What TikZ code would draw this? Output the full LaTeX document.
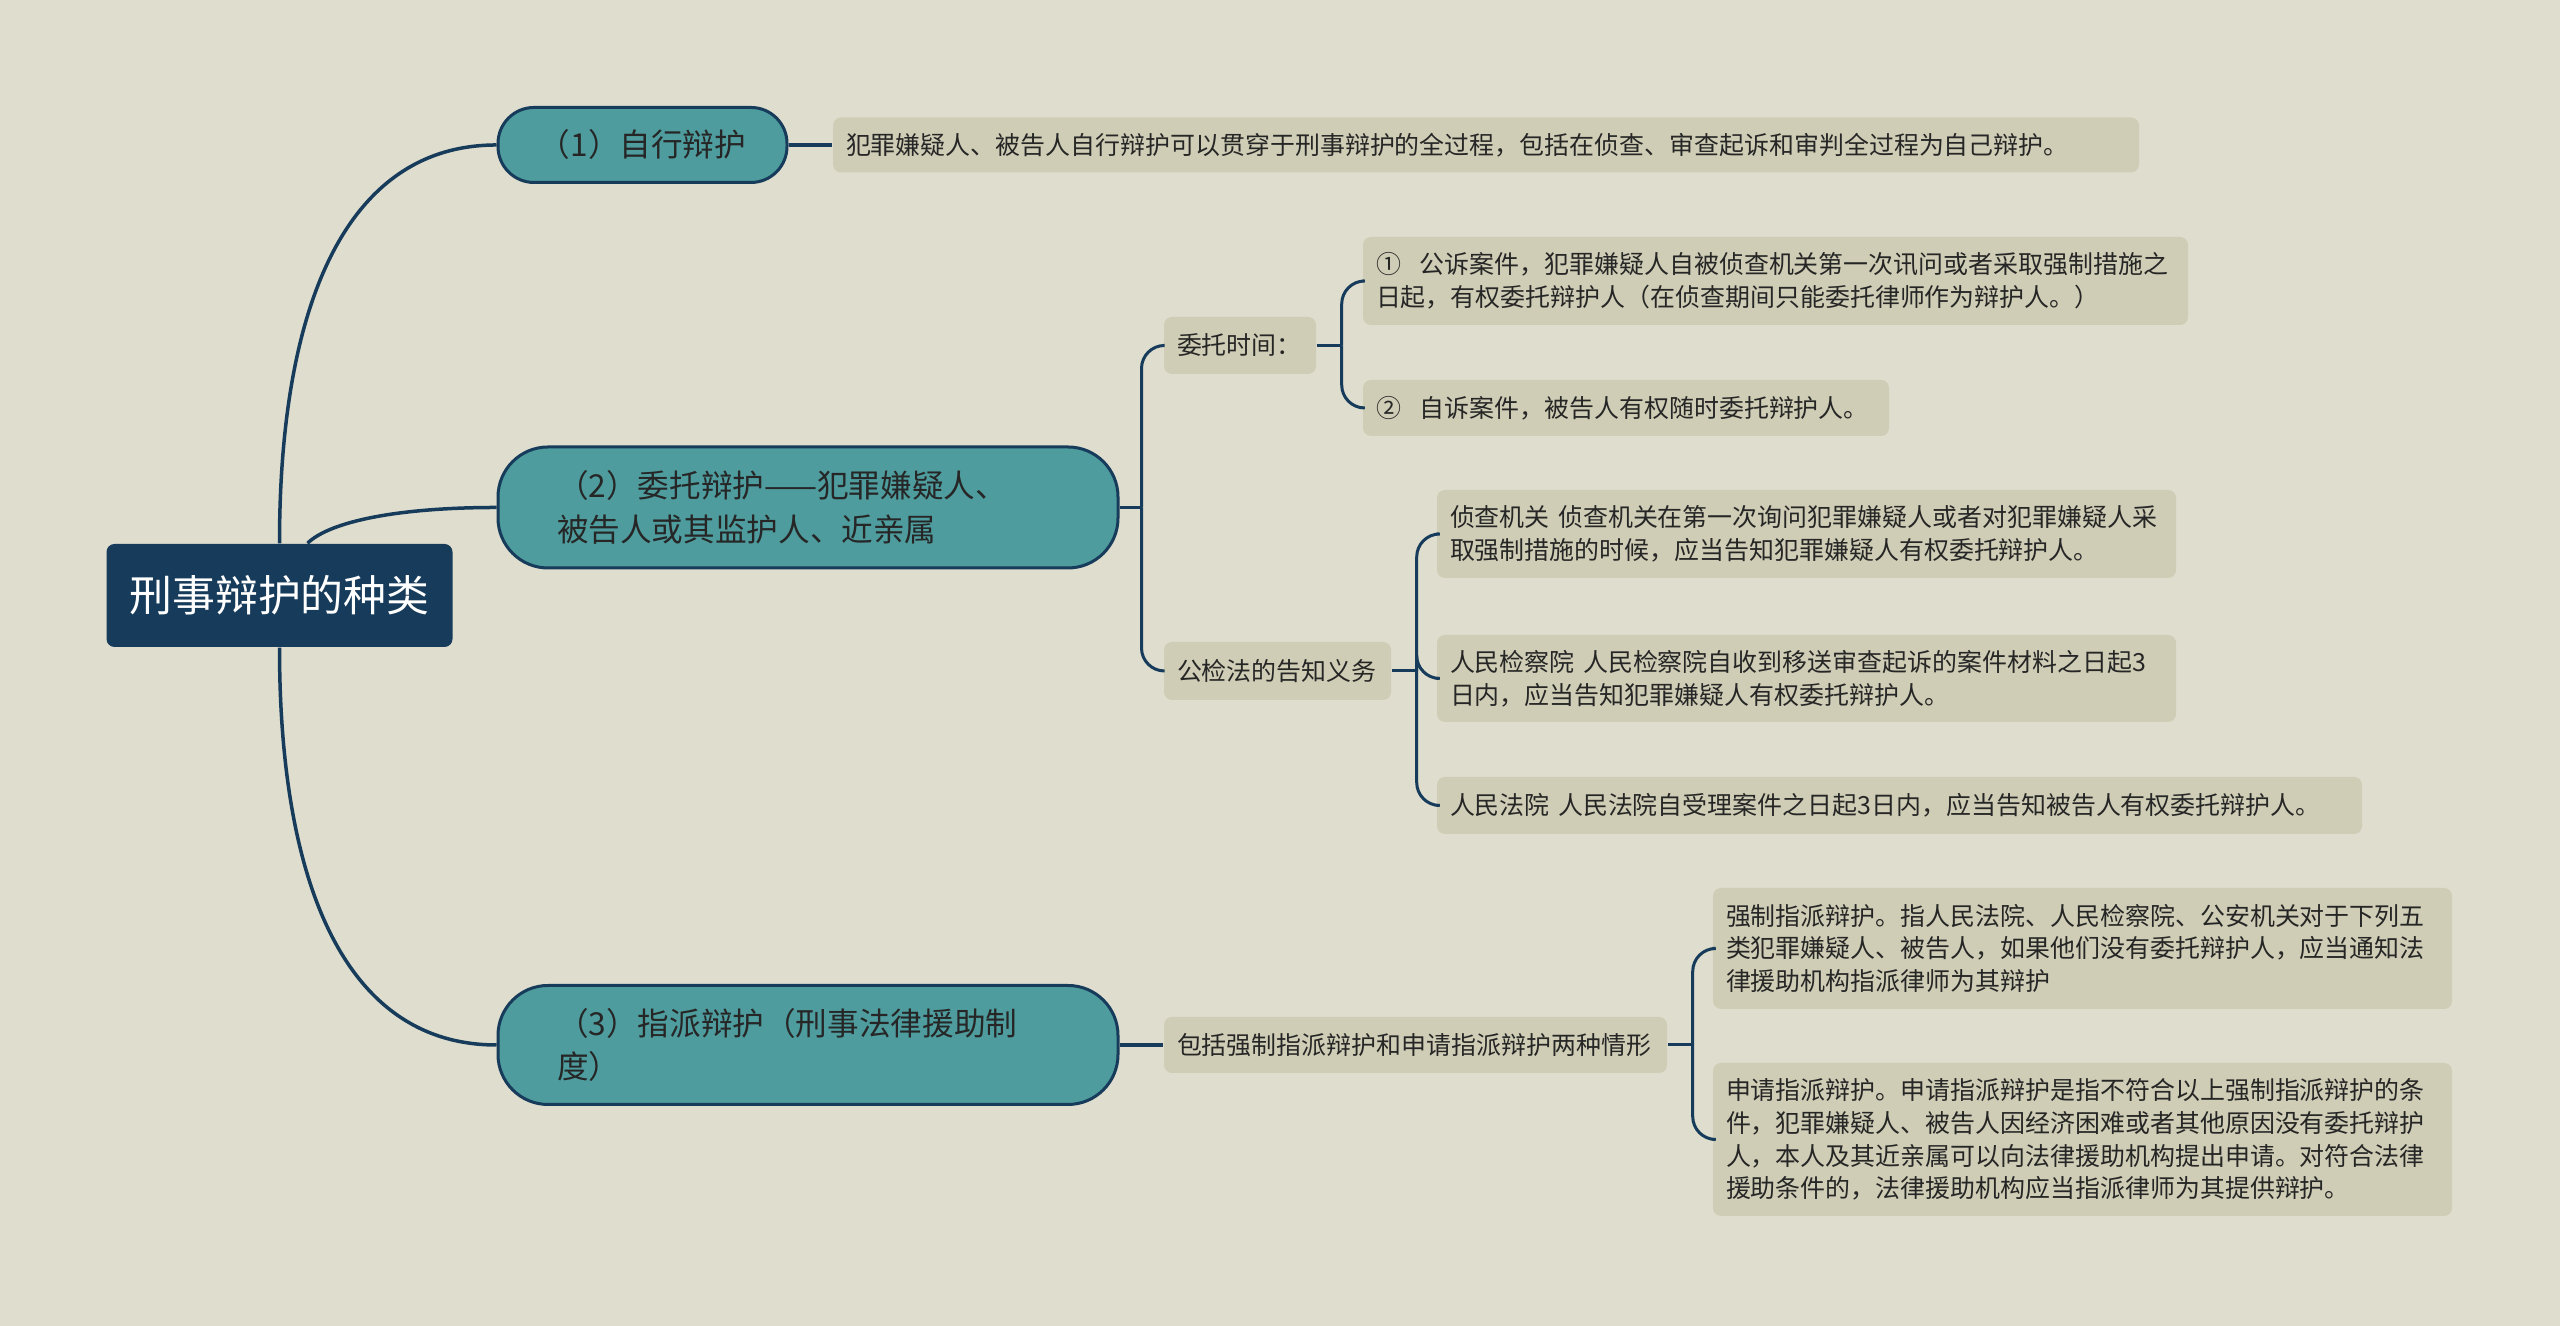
\documentclass[tikz,border=0pt]{standalone}
\usepackage{fontspec}
\setmainfont{Noto Sans CJK SC}
\definecolor{bgcol}{HTML}{DFDDCE}
\definecolor{notecol}{HTML}{CFCDB5}
\definecolor{topiccol}{HTML}{4E9C9E}
\definecolor{navycol}{HTML}{173B5A}
\definecolor{inkcol}{HTML}{262626}
\begin{document}
\begin{tikzpicture}[
  rootbox/.style={fill=navycol, text=white, rounded corners=0.08cm, inner sep=0pt,
    minimum width=3.46cm, minimum height=1.03cm, font=\fontsize{12.2}{14}\selectfont},
  topic/.style={fill=topiccol, draw=navycol, line width=0.03cm, text=inkcol, inner sep=0pt,
    font=\fontsize{9}{12.5}\selectfont},
  note/.style={fill=notecol, text=inkcol, rounded corners=0.08cm, inner xsep=0.13cm,
    inner ysep=0pt, align=left, font=\fontsize{7.1}{9.3}\selectfont},
  link/.style={draw=navycol, line width=0.035cm},
  twig/.style={draw=navycol, line width=0.03cm, rounded corners=0.23cm}
]
\fill[bgcol] (0,0) rectangle (25.6,13.26);
\useasboundingbox (0,0) rectangle (25.6,13.26);

\node[rootbox] (root) at (2.795,7.305) {刑事辩护的种类};

\node[topic, rounded corners=0.36cm, minimum width=2.89cm, minimum height=0.75cm] (self) at (6.425,11.81) {（1）自行辩护};
\node[topic, rounded corners=0.5cm, minimum width=6.2cm, minimum height=1.21cm, text width=5.02cm, align=left] (entrust) at (8.08,8.185) {（2）委托辩护——犯罪嫌疑人、\\被告人或其监护人、近亲属};
\node[topic, rounded corners=0.5cm, minimum width=6.2cm, minimum height=1.19cm, text width=5.02cm, align=left] (appoint) at (8.08,2.81) {（3）指派辩护（刑事法律援助制\\度）};

\node[note, text width=12.8cm, minimum height=0.55cm] (selfnote) at (14.86,11.81) {犯罪嫌疑人、被告人自行辩护可以贯穿于刑事辩护的全过程，包括在侦查、审查起诉和审判全过程为自己辩护。};

\node[note, text width=1.26cm, minimum height=0.57cm] (time) at (12.40,9.805) {委托时间：};
\node[note, text width=7.99cm, minimum height=0.88cm] (time1) at (17.755,10.45) {①\hspace{0.75em}公诉案件，犯罪嫌疑人自被侦查机关第一次讯问或者采取强制措施之\\日起，有权委托辩护人（在侦查期间只能委托律师作为辩护人。）};
\node[note, text width=5.0cm, minimum height=0.56cm] (time2) at (16.26,9.18) {②\hspace{0.75em}自诉案件，被告人有权随时委托辩护人。};

\node[note, text width=2.01cm, minimum height=0.58cm] (duty) at (12.775,6.55) {公检法的告知义务};
\node[note, text width=7.13cm, minimum height=0.88cm] (duty1) at (18.065,7.92) {侦查机关 侦查机关在第一次询问犯罪嫌疑人或者对犯罪嫌疑人采\\取强制措施的时候，应当告知犯罪嫌疑人有权委托辩护人。};
\node[note, text width=7.13cm, minimum height=0.87cm] (duty2) at (18.065,6.475) {人民检察院 人民检察院自收到移送审查起诉的案件材料之日起3\\日内，应当告知犯罪嫌疑人有权委托辩护人。};
\node[note, text width=8.99cm, minimum height=0.57cm] (duty3) at (18.995,5.205) {人民法院 人民法院自受理案件之日起3日内，应当告知被告人有权委托辩护人。};

\node[note, text width=4.77cm, minimum height=0.56cm] (kinds) at (14.155,2.81) {包括强制指派辩护和申请指派辩护两种情形};
\node[note, text width=7.13cm, minimum height=1.21cm] (kinds1) at (20.825,3.775) {强制指派辩护。指人民法院、人民检察院、公安机关对于下列五\\类犯罪嫌疑人、被告人，如果他们没有委托辩护人，应当通知法\\律援助机构指派律师为其辩护};
\node[note, text width=7.13cm, minimum height=1.53cm] (kinds2) at (20.825,1.865) {申请指派辩护。申请指派辩护是指不符合以上强制指派辩护的条\\件，犯罪嫌疑人、被告人因经济困难或者其他原因没有委托辩护\\人，本人及其近亲属可以向法律援助机构提出申请。对符合法律\\援助条件的，法律援助机构应当指派律师为其提供辩护。};

\draw[link] (root.north) .. controls +(0,2.43) and +(-1.48,0) .. (self.west);
\draw[link] ([xshift=0.28cm]root.north) .. controls +(0.225,0.22) and +(-0.98,0) .. (entrust.west);
\draw[link] (root.south) .. controls +(0,-2.43) and +(-1.48,0) .. (appoint.west);

\draw[link] (self.east) -- (selfnote.west);
\draw[link] (appoint.east) -- (kinds.west);

\coordinate (entrustfork) at ([xshift=0.22cm]entrust.east);
\coordinate (timefork) at ([xshift=0.25cm]time.east);
\coordinate (dutyfork) at ([xshift=0.25cm]duty.east);
\coordinate (kindsfork) at ([xshift=0.25cm]kinds.east);

\draw[twig] (entrust.east) -- (entrustfork);
\draw[twig] (time.east) -- (timefork);
\draw[twig] (duty.east) -- (dutyfork);
\draw[twig] (kinds.east) -- (kindsfork);

\foreach \child in {time,duty}
  \draw[twig] (entrustfork) |- (\child.west);
\foreach \child in {time1,time2}
  \draw[twig] (timefork) |- (\child.west);
\foreach \child in {duty1,duty2,duty3}
  \draw[twig] (dutyfork) |- (\child.west);
\foreach \child in {kinds1,kinds2}
  \draw[twig] (kindsfork) |- (\child.west);
\end{tikzpicture}
\end{document}
